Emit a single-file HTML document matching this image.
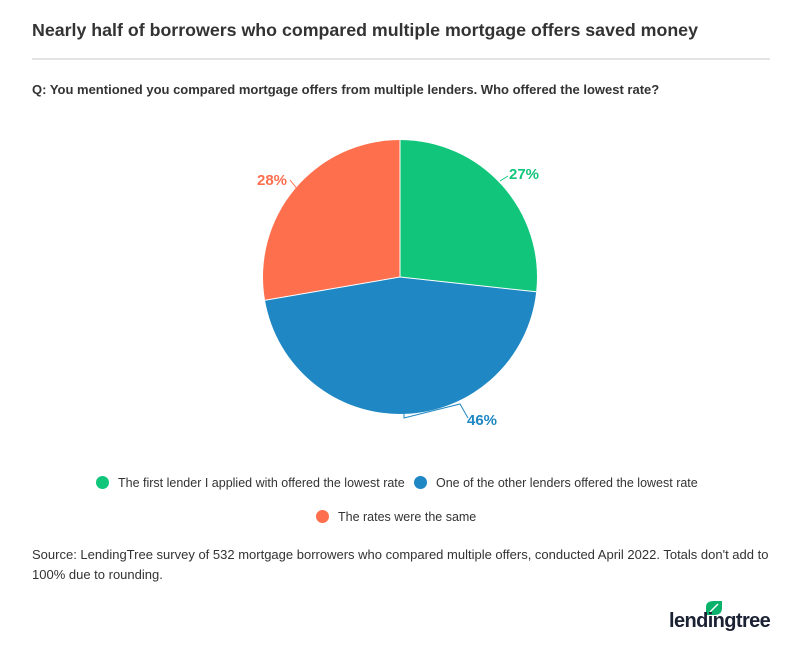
<!DOCTYPE html>
<html><head><meta charset="utf-8"><style>
body{margin:0;width:800px;height:645px;background:#fff;font-family:"Liberation Sans",sans-serif;position:relative;overflow:hidden}
.t{position:absolute;left:32px;top:20px;font-size:17.8px;font-weight:bold;color:#333}
.hr{position:absolute;left:32px;top:58px;width:738px;height:2px;background:#e3e3e3}
.q{position:absolute;left:32px;top:82px;font-size:13px;font-weight:bold;color:#333}
.leg{position:absolute;font-size:12.5px;color:#333}
.dot{display:inline-block;width:13px;height:13px;border-radius:50%;vertical-align:-2px;margin-right:9px}
.src{position:absolute;left:32px;top:545px;width:740px;font-size:13px;color:#333;line-height:20px}
</style></head><body>
<div class="t">Nearly half of borrowers who compared multiple mortgage offers saved money</div>
<div class="hr"></div>
<div class="q">Q: You mentioned you compared mortgage offers from multiple lenders. Who offered the lowest rate?</div>
<svg width="800" height="645" style="position:absolute;left:0;top:0">
<path d="M400,277 L400,140 A137,137 0 0 1 536.2,291.8 Z" fill="#11c57a"/>
<path d="M400,277 L536.2,291.8 A137,137 0 0 1 265,300.3 Z" fill="#1f87c3"/>
<path d="M400,277 L265,300.3 A137,137 0 0 1 400,140 Z" fill="#fe6f4e"/>
<g stroke="#fff" stroke-width="1"><line x1="400" y1="277" x2="400" y2="140"/><line x1="400" y1="277" x2="536.2" y2="291.8"/><line x1="400" y1="277" x2="265" y2="300.3"/></g>
<polyline points="404,413 404,418 460,404 468,418" fill="none" stroke="#1f87c3" stroke-width="1"/>
<polyline points="500,181 508,176" fill="none" stroke="#11c57a"/>
<polyline points="290,180 298,190" fill="none" stroke="#fe6f4e"/>
<text x="509" y="179" font-size="15" font-weight="bold" fill="#11c57a" font-family="Liberation Sans">27%</text>
<text x="257" y="185" font-size="15" font-weight="bold" fill="#fe6f4e" font-family="Liberation Sans">28%</text>
<text x="467" y="425" font-size="15" font-weight="bold" fill="#1f87c3" font-family="Liberation Sans">46%</text>
</svg>
<div class="leg" style="left:96px;top:476px"><span class="dot" style="background:#11c57a"></span>The first lender I applied with offered the lowest rate</div>
<div class="leg" style="left:414px;top:476px"><span class="dot" style="background:#1f87c3"></span>One of the other lenders offered the lowest rate</div>
<div class="leg" style="left:316px;top:510px"><span class="dot" style="background:#fe6f4e"></span>The rates were the same</div>
<div class="src">Source: LendingTree survey of 532 mortgage borrowers who compared multiple offers, conducted April 2022. Totals don't add to 100% due to rounding.</div>
<svg width="20" height="18" style="position:absolute;left:704px;top:599px"><path d="M2,16 L2,8 Q2,2 10,2 L18,2 L18,9 Q18,16 10,16 Z" fill="#08b26a"/><path d="M6,13 L14,5" stroke="#fff" stroke-width="1.5"/></svg>
<div style="position:absolute;left:669px;top:610px;font-size:20px;font-weight:bold;color:#1b2233;letter-spacing:-0.6px">lendingtree</div>
</body></html>
